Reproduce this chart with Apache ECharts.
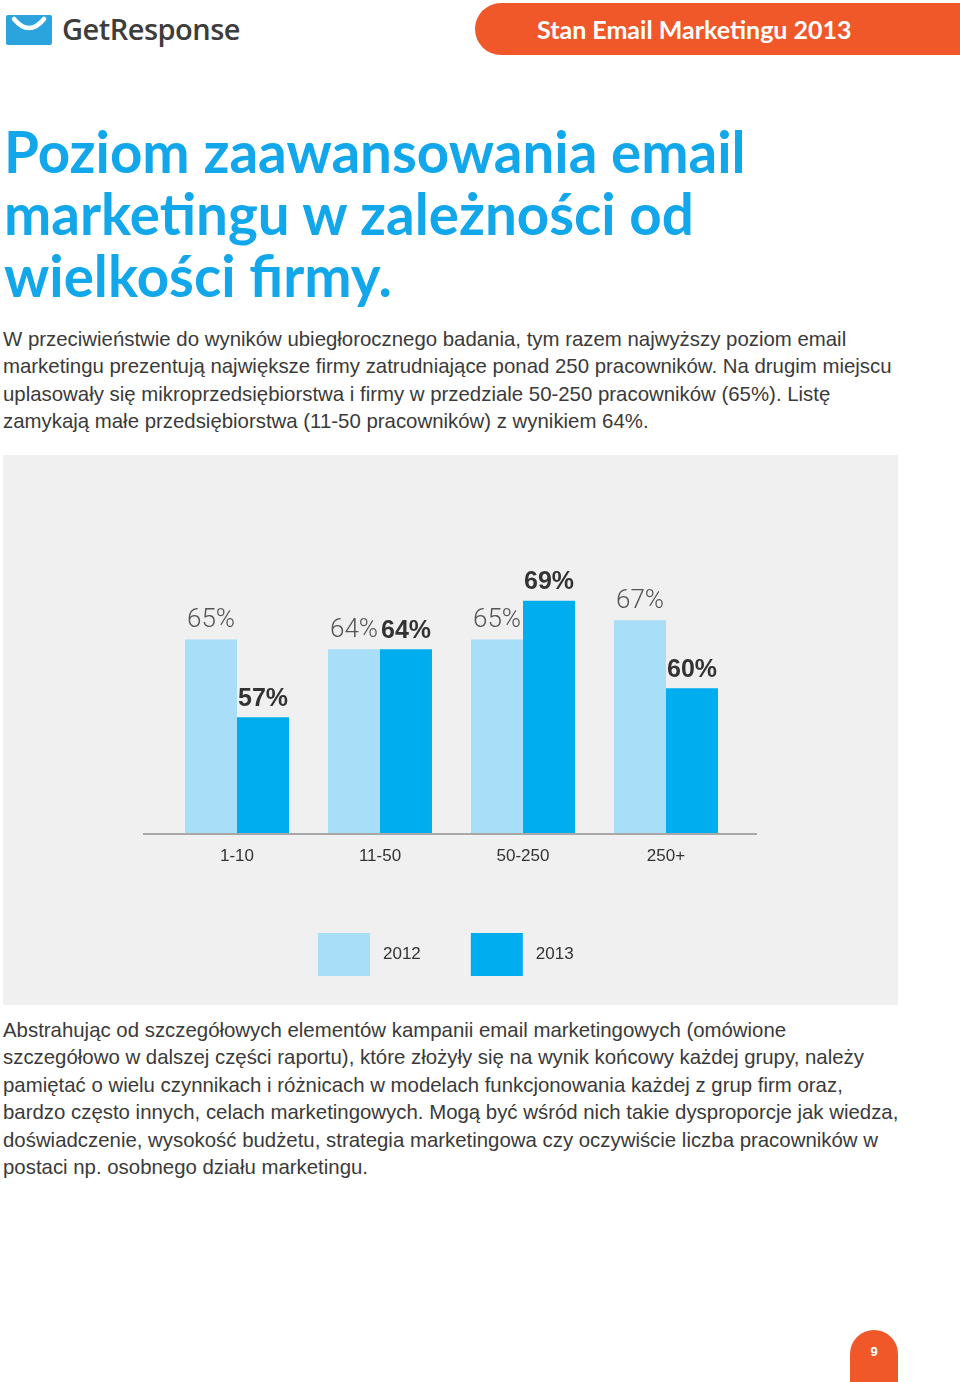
<!DOCTYPE html>
<html>
<head>
<meta charset="utf-8">
<script src="https://cdn.jsdelivr.net/npm/echarts@6/dist/echarts.min.js"></script>
<style>
  html, body { margin: 0; padding: 0; background: #ffffff; }
  body { width: 960px; height: 1382px; position: relative; overflow: hidden; }
  .abs { position: absolute; }
  #logoText { left: 62px; top: 9px; font-family: "Open Sans", sans-serif; font-weight: 600; font-size: 29px; color: #3d3d3d; letter-spacing: -0.5px; }
  #tab { left: 475px; top: 3px; width: 485px; height: 52px; background: #f0582a; border-radius: 26px 0 0 26px; }
  #tabText { left: 537px; top: 14px; font-family: "Lato", sans-serif; font-weight: 700; font-size: 25px; color: #ffffff; white-space: nowrap; }
  #title { left: 4px; top: 120px; font-family: "Lato", sans-serif; font-weight: 700; font-size: 56.5px; line-height: 62px; color: #12a6ea; white-space: nowrap; }
  .para { left: 3px; font-family: "Liberation Sans", Arial, sans-serif; font-size: 20.4px; line-height: 27.4px; color: #3a3a3a; white-space: nowrap; }
  #p1 { top: 326px; }
  #p2 { top: 1017px; }
  #chart { left: 3px; top: 455px; width: 895px; height: 550px; }
  #pageNo { left: 850px; top: 1330px; width: 48px; height: 60px; background: #f0582a; border-radius: 24px 24px 0 0; color: #fff; font-family: "Liberation Sans", Arial, sans-serif; font-weight: 700; font-size: 13px; text-align: center; line-height: 44px; }
</style>
</head>
<body>
<svg class="abs" style="left:6px;top:15px" width="46" height="30" viewBox="0 0 46 30">
  <rect x="0" y="0" width="46" height="30" rx="2" fill="#2ba3dc"/>
  <path d="M8 4 Q23 22 38 4" stroke="#ffffff" stroke-width="4.5" fill="none" stroke-linecap="round"/>
</svg>
<div id="logoText" class="abs">GetResponse</div>
<div id="tab" class="abs"></div>
<div id="tabText" class="abs">Stan Email Marketingu 2013</div>
<div id="title" class="abs">Poziom zaawansowania email<br>marketingu w zależności od<br>wielkości firmy.</div>
<div id="p1" class="abs para">W przeciwieństwie do wyników ubiegłorocznego badania, tym razem najwyższy poziom email<br>marketingu prezentują największe firmy zatrudniające ponad 250 pracowników. Na drugim miejscu<br>uplasowały się mikroprzedsiębiorstwa i firmy w przedziale 50-250 pracowników (65%). Listę<br>zamykają małe przedsiębiorstwa (11-50 pracowników) z wynikiem 64%.</div>
<div id="chart" class="abs"></div>
<div id="p2" class="abs para">Abstrahując od szczegółowych elementów kampanii email marketingowych (omówione<br>szczegółowo w dalszej części raportu), które złożyły się na wynik końcowy każdej grupy, należy<br>pamiętać o wielu czynnikach i różnicach w modelach funkcjonowania każdej z grup firm oraz,<br>bardzo często innych, celach marketingowych. Mogą być wśród nich takie dysproporcje jak wiedza,<br>doświadczenie, wysokość budżetu, strategia marketingowa czy oczywiście liczba pracowników w<br>postaci np. osobnego działu marketingu.</div>
<div id="pageNo" class="abs">9</div>
<script>
var categories = ['1-10', '11-50', '50-250', '250+'];
var seriesNames = ['2012', '2013'];
var values2012 = [65, 64, 65, 67];
var values2013 = [57, 64, 69, 60];

var chart = echarts.init(document.getElementById('chart'), null, { renderer: 'canvas' });
var gridLeft = 162.5, gridWidth = 572, gridTop = 136, gridBottom = 171;
var panelH = 550;
var axisY = panelH - gridBottom;

chart.setOption({
  backgroundColor: '#f0f0f0',
  animation: false,
  grid: { left: gridLeft, width: gridWidth, top: gridTop, bottom: gridBottom },
  legend: {
    left: 310, top: 473,
    itemWidth: 52, itemHeight: 43, itemGap: 50,
    icon: 'rect',
    data: seriesNames,
    textStyle: { fontFamily: 'Liberation Sans, Arial, sans-serif', fontSize: 17, color: '#333', padding: [0, 0, 0, 8] }
  },
  xAxis: {
    type: 'category',
    data: categories,
    axisLine: { show: false },
    axisTick: { show: false },
    axisLabel: { margin: 14, fontFamily: 'Liberation Sans, Arial, sans-serif', fontSize: 17, color: '#333' }
  },
  yAxis: {
    type: 'value', min: 45, max: 70,
    show: false,
    splitLine: { show: false }
  },
  graphic: [{
    type: 'line',
    shape: { x1: 140, y1: axisY, x2: 754, y2: axisY },
    style: { stroke: '#a8a8a8', lineWidth: 2 },
    z: 10
  }],
  series: [
    {
      name: seriesNames[0], type: 'bar', data: values2012,
      barWidth: 52, barGap: '0%',
      itemStyle: { color: '#a8def7' },
      label: {
        show: true, position: 'top', distance: 6,
        formatter: '{c}%',
        fontFamily: 'Roboto, sans-serif', fontWeight: 300, fontSize: 26, color: '#555'
      }
    },
    {
      name: seriesNames[1], type: 'bar', data: values2013,
      barWidth: 52, barGap: '0%',
      itemStyle: { color: '#00adee' },
      label: {
        show: true, position: 'top', distance: 6,
        formatter: '{c}%',
        fontFamily: 'Liberation Sans, Arial, sans-serif', fontWeight: 'bold', fontSize: 25, color: '#333'
      }
    }
  ]
});
</script>
</body>
</html>
